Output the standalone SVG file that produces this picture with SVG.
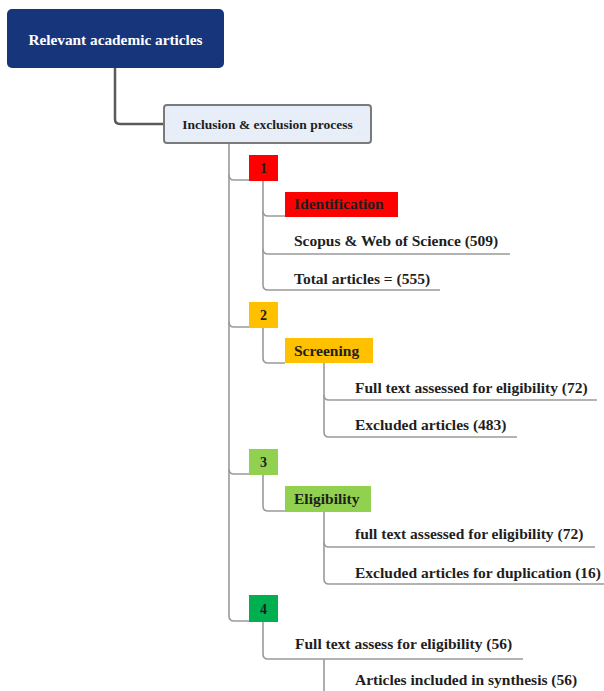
<svg xmlns="http://www.w3.org/2000/svg" width="604" height="691" viewBox="0 0 604 691">
<style>
.t{font-family:"Liberation Serif","Times New Roman",serif;font-weight:bold;font-size:15.5px;fill:#1e1e1e}
.c{fill:none;stroke:#9a9a9a;stroke-width:1.6;stroke-linejoin:round}
</style>
<rect width="604" height="691" fill="#fff"/>
<g id="connectors">
<path d="M115 68 V119 Q115 124 120 124 H163" fill="none" stroke="#5a5a5a" stroke-width="2.5"/>
<path class="c" d="M229 143 V616 Q229 621 234 621 H249"/>
<path class="c" d="M229 175 Q229 180 234 180 H249"/>
<path class="c" d="M229 322 Q229 327 234 327 H249"/>
<path class="c" d="M229 469 Q229 474 234 474 H249"/>
<path class="c" d="M263 181 V285 Q263 290 268 290 H440"/>
<path class="c" d="M263 211 Q263 216 268 216 H285"/>
<path class="c" d="M263 249 Q263 254 268 254 H510"/>
<path class="c" d="M263 328 V358 Q263 363 268 363 H285"/>
<path class="c" d="M324 363 V432 Q324 437 329 437 H517"/>
<path class="c" d="M324 395 Q324 400 329 400 H597"/>
<path class="c" d="M263 475 V506 Q263 511 268 511 H285"/>
<path class="c" d="M324 512 V579 Q324 584 329 584 H604"/>
<path class="c" d="M324 542 Q324 547 329 547 H595"/>
<path class="c" d="M263 622 V654 Q263 659 268 659 H523"/>
<path class="c" d="M324 659 V691"/>
</g>
<g id="root">
<rect x="7" y="9" width="217" height="59" rx="5" fill="#17357a"/>
<text class="t" x="115.5" y="45" text-anchor="middle" style="fill:#fff;font-size:15.3px">Relevant academic articles</text>
</g>
<g id="inclusion">
<rect x="164" y="105" width="207" height="38" rx="3" fill="#e8eef8" stroke="#7a7a7a" stroke-width="2"/>
<text class="t" x="267.5" y="129" text-anchor="middle" style="font-size:13.5px">Inclusion &amp; exclusion process</text>
</g>
<g id="step1">
<rect x="249" y="155" width="29" height="26" fill="#ff0000"/>
<text class="t" x="263.5" y="173" text-anchor="middle" style="font-size:14px">1</text>
</g>
<g id="identification">
<rect x="285" y="192" width="113" height="25" fill="#ff0000"/>
<text class="t" x="294" y="209">Identification</text>
</g>
<g id="scopus"><text class="t" x="294" y="246">Scopus &amp; Web of Science (509)</text></g>
<g id="total"><text class="t" x="294" y="284">Total articles = (555)</text></g>
<g id="step2">
<rect x="249" y="302" width="29" height="26" fill="#ffc000"/>
<text class="t" x="263.5" y="320" text-anchor="middle" style="font-size:14px">2</text>
</g>
<g id="screening">
<rect x="285" y="338" width="88" height="25" fill="#ffc000"/>
<text class="t" x="294" y="356">Screening</text>
</g>
<g id="fulltext1"><text class="t" x="355" y="393">Full text assessed for eligibility (72)</text></g>
<g id="excluded1"><text class="t" x="355" y="430">Excluded articles (483)</text></g>
<g id="step3">
<rect x="249" y="449" width="29" height="26" fill="#92d050"/>
<text class="t" x="263.5" y="467" text-anchor="middle" style="font-size:14px">3</text>
</g>
<g id="eligibility">
<rect x="285" y="486" width="86" height="26" fill="#92d050"/>
<text class="t" x="294" y="504">Eligibility</text>
</g>
<g id="fulltext2"><text class="t" x="355" y="539">full text assessed for eligibility (72)</text></g>
<g id="excluded2"><text class="t" x="355" y="578">Excluded articles for duplication (16)</text></g>
<g id="step4">
<rect x="249" y="595" width="29" height="27" fill="#00b050"/>
<text class="t" x="263.5" y="614" text-anchor="middle" style="font-size:14px">4</text>
</g>
<g id="fulltext3"><text class="t" x="295" y="649">Full text assess for eligibility (56)</text></g>
<g id="included"><text class="t" x="355" y="685">Articles included in synthesis (56)</text></g>
</svg>
